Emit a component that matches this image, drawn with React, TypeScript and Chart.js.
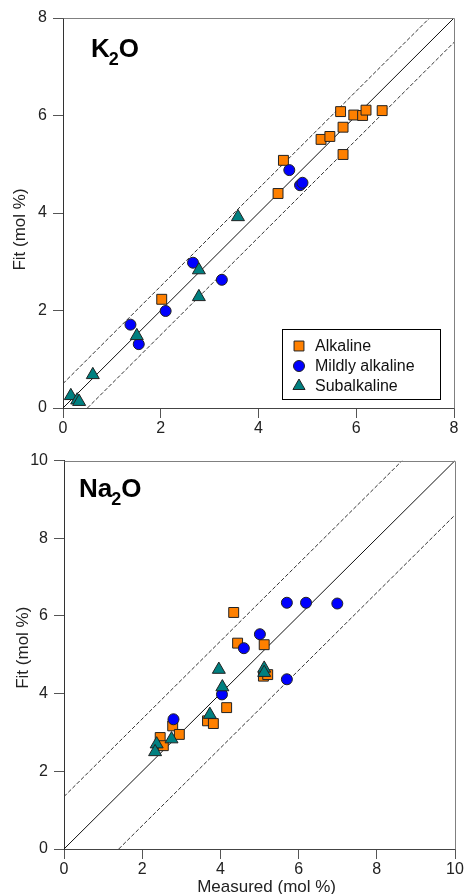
import React, { useEffect, useRef } from 'react';
import { Chart, registerables } from 'chart.js';

Chart.register(...registerables);

const FONT = '"Liberation Sans", Arial, Helvetica, sans-serif';

// ---------- K2O panel data ----------
const k2oAlkalineX = [5.68, 5.95, 6.13, 6.2, 6.53, 5.28, 5.46, 5.73, 5.73, 4.51, 4.4, 2.02];
const k2oAlkalineY = [6.08, 6.01, 6.0, 6.11, 6.1, 5.51, 5.57, 5.76, 5.2, 5.08, 4.4, 2.23];
const k2oMildX = [4.63, 4.85, 4.9, 2.66, 3.25, 2.1, 1.38, 1.55];
const k2oMildY = [4.88, 4.57, 4.62, 2.98, 2.63, 1.99, 1.71, 1.31];
const k2oSubX = [3.58, 2.78, 2.78, 1.51, 0.61, 0.16, 0.29, 0.33];
const k2oSubY = [3.92, 2.83, 2.28, 1.48, 0.68, 0.25, 0.16, 0.13];
const k2oFitX = [0, 8];
const k2oFitY = [0, 8];
const k2oUpperX = [0, 7.5];
const k2oUpperY = [0.5, 8];
const k2oLowerX = [0.5, 8];
const k2oLowerY = [0, 7.5];
const k2oTicks = [0, 2, 4, 6, 8];

// ---------- Na2O panel data ----------
const na2oAlkalineX = [4.34, 4.44, 5.12, 5.1, 5.21, 4.16, 3.67, 3.82, 2.78, 2.95, 2.46, 2.54];
const na2oAlkalineY = [6.09, 5.3, 5.26, 4.45, 4.49, 3.64, 3.3, 3.23, 3.17, 2.95, 2.87, 2.66];
const na2oMildX = [5.7, 6.19, 6.99, 5.01, 4.6, 5.7, 4.04, 2.8];
const na2oMildY = [6.34, 6.34, 6.32, 5.53, 5.17, 4.37, 3.98, 3.34];
const na2oSubX = [3.96, 4.05, 3.73, 5.12, 5.12, 2.75, 2.37, 2.33];
const na2oSubY = [4.62, 4.17, 3.46, 4.65, 4.54, 2.83, 2.7, 2.5];
const na2oFitX = [0, 10];
const na2oFitY = [0, 10];
const na2oUpperX = [0, 8.65];
const na2oUpperY = [1.35, 10];
const na2oLowerX = [1.4, 10];
const na2oLowerY = [0, 8.6];
const na2oTicks = [0, 2, 4, 6, 8, 10];

const seriesNames = ['Alkaline', 'Mildly alkaline', 'Subalkaline'];
const yTitle = 'Fit (mol %)';
const xTitle = 'Measured (mol %)';

const ORANGE = '#ff8000';
const BLUE = '#0000ff';
const TEAL = '#008080';
const EDGE = '#222222';

const pts = (xs: number[], ys: number[]) => xs.map((x, i) => ({ x, y: ys[i] }));

function drawMarker(ctx: CanvasRenderingContext2D, style: string, x: number, y: number, r: number, fill: string) {
  ctx.beginPath();
  if (style === 'rect') {
    const s = Math.SQRT1_2 * r;
    ctx.rect(x - s, y - s, 2 * s, 2 * s);
  } else if (style === 'circle') {
    ctx.arc(x, y, r, 0, Math.PI * 2);
  } else {
    let rad = 0;
    ctx.moveTo(x + Math.sin(rad) * r, y - Math.cos(rad) * r);
    rad += (2 * Math.PI) / 3;
    ctx.lineTo(x + Math.sin(rad) * r, y - Math.cos(rad) * r);
    rad += (2 * Math.PI) / 3;
    ctx.lineTo(x + Math.sin(rad) * r, y - Math.cos(rad) * r);
    ctx.closePath();
  }
  ctx.fillStyle = fill;
  ctx.fill();
  ctx.lineWidth = 1;
  ctx.strokeStyle = EDGE;
  ctx.stroke();
}

type PanelCfg = {
  top: number;
  height: number;
  padTop: number;
  padRight: number;
  yWidth: number;
  xHeight: number;
  max: number;
  ticks: number[];
  alk: { x: number; y: number }[];
  mild: { x: number; y: number }[];
  sub: { x: number; y: number }[];
  fit: { x: number; y: number }[];
  upper: { x: number; y: number }[];
  lower: { x: number; y: number }[];
  labelMain: string;
  labelSub: string;
  labelTail: string;
  labelX: number;
  labelBase: number;
  legend: boolean;
  yTitleText: string;
  yTitlePad: number;
  showXTitle: boolean;
};

const panels: PanelCfg[] = [
  {
    top: 0,
    height: 445,
    padTop: 18,
    padRight: 12,
    yWidth: 63,
    xHeight: 37,
    max: 8,
    ticks: k2oTicks,
    alk: pts(k2oAlkalineX, k2oAlkalineY),
    mild: pts(k2oMildX, k2oMildY),
    sub: pts(k2oSubX, k2oSubY),
    fit: pts(k2oFitX, k2oFitY),
    upper: pts(k2oUpperX, k2oUpperY),
    lower: pts(k2oLowerX, k2oLowerY),
    labelMain: 'K',
    labelSub: '2',
    labelTail: 'O',
    labelX: 91,
    labelBase: 57,
    legend: true,
    yTitleText: yTitle + '       ',
    yTitlePad: 10.5,
    showXTitle: false,
  },
  {
    top: 445,
    height: 449,
    padTop: 13,
    padRight: 11,
    yWidth: 64,
    xHeight: 45,
    max: 10,
    ticks: na2oTicks,
    alk: pts(na2oAlkalineX, na2oAlkalineY),
    mild: pts(na2oMildX, na2oMildY),
    sub: pts(na2oSubX, na2oSubY),
    fit: pts(na2oFitX, na2oFitY),
    upper: pts(na2oUpperX, na2oUpperY),
    lower: pts(na2oLowerX, na2oLowerY),
    labelMain: 'Na',
    labelSub: '2',
    labelTail: 'O',
    labelX: 79,
    labelBase: 52,
    legend: false,
    yTitleText: '   ' + yTitle,
    yTitlePad: 13.5,
    showXTitle: true,
  },
];

function makeDecor(p: PanelCfg) {
  return {
    id: 'decor' + p.top,
    afterDraw(chart: any) {
      const { ctx, chartArea } = chart;
      const { left, right, top, bottom } = chartArea;
      ctx.save();
      // top & right frame
      ctx.strokeStyle = '#808080';
      ctx.lineWidth = 1;
      ctx.beginPath();
      ctx.moveTo(Math.round(left) + 0.5, Math.round(top) + 0.5);
      ctx.lineTo(Math.round(right) + 0.5, Math.round(top) + 0.5);
      ctx.lineTo(Math.round(right) + 0.5, Math.round(bottom) + 0.5);
      ctx.stroke();

      // panel label with subscript
      ctx.fillStyle = '#000';
      ctx.textBaseline = 'alphabetic';
      ctx.textAlign = 'left';
      let x = p.labelX;
      ctx.font = 'bold 26px ' + FONT;
      ctx.fillText(p.labelMain, x, p.labelBase);
      x += ctx.measureText(p.labelMain).width - 1;
      ctx.font = 'bold 18px ' + FONT;
      ctx.fillText(p.labelSub, x, p.labelBase + 8);
      x += ctx.measureText(p.labelSub).width;
      ctx.font = 'bold 26px ' + FONT;
      ctx.fillText(p.labelTail, x, p.labelBase);

      if (p.legend) {
        const bx = right - 171.5;
        const by = bottom - 78.5;
        ctx.fillStyle = '#fff';
        ctx.fillRect(bx, by, 158, 70);
        ctx.strokeStyle = '#000';
        ctx.lineWidth = 1;
        ctx.strokeRect(bx, by, 158, 70);
        const styles = ['rect', 'circle', 'triangle'];
        const fills = [ORANGE, BLUE, TEAL];
        const radii = [7, 5.5, 7];
        ctx.font = '16px ' + FONT;
        ctx.textBaseline = 'middle';
        for (let i = 0; i < seriesNames.length; i++) {
          const cy = by + 16.5 + i * 20;
          drawMarker(ctx, styles[i], bx + 16.5, cy, radii[i], fills[i]);
          ctx.fillStyle = '#111';
          ctx.fillText(seriesNames[i], bx + 32.5, cy + 1);
        }
      }
      ctx.restore();
    },
  };
}

function buildConfig(p: PanelCfg): any {
  const tickFont = { family: FONT, size: 16 };
  const lineDs = (data: any[], dash: number[]) => ({
    type: 'line',
    data,
    showLine: true,
    borderColor: dash.length ? '#333' : '#111',
    borderWidth: 1,
    borderDash: dash,
    pointRadius: 0,
    fill: false,
    order: 10,
  });
  return {
    type: 'scatter',
    data: {
      datasets: [
        lineDs(p.fit, []),
        lineDs(p.upper, [4, 2]),
        lineDs(p.lower, [4, 2]),
        {
          label: seriesNames[0],
          data: p.alk,
          pointStyle: 'rect',
          pointRadius: 7,
          backgroundColor: ORANGE,
          borderColor: EDGE,
          borderWidth: 1,
          order: 3,
        },
        {
          label: seriesNames[1],
          data: p.mild,
          pointStyle: 'circle',
          pointRadius: 5.5,
          backgroundColor: BLUE,
          borderColor: EDGE,
          borderWidth: 1,
          order: 2,
        },
        {
          label: seriesNames[2],
          data: p.sub,
          pointStyle: 'triangle',
          pointRadius: 7.5,
          backgroundColor: TEAL,
          borderColor: EDGE,
          borderWidth: 1,
          order: 1,
        },
      ],
    },
    options: {
      animation: false,
      responsive: false,
      devicePixelRatio: 1,
      layout: { padding: { left: 0, right: p.padRight, top: p.padTop, bottom: 0 } },
      plugins: { legend: { display: false }, tooltip: { enabled: false } },
      scales: {
        x: {
          type: 'linear',
          min: 0,
          max: p.max,
          afterBuildTicks: (s: any) => {
            s.ticks = p.ticks.map((v) => ({ value: v }));
          },
          afterFit: (s: any) => {
            s.height = p.xHeight;
          },
          ticks: { font: tickFont, color: '#222', padding: 1, maxRotation: 0, autoSkip: false },
          grid: { drawOnChartArea: false, drawTicks: true, tickLength: 10, color: '#555' },
          border: { display: true, color: '#444', width: 1 },
          title: {
            display: p.showXTitle,
            text: '   ' + xTitle,
            font: { family: FONT, size: 17 },
            color: '#222',
            padding: { top: 0, bottom: -4 },
          },
        },
        y: {
          type: 'linear',
          min: 0,
          max: p.max,
          afterBuildTicks: (s: any) => {
            s.ticks = p.ticks.map((v) => ({ value: v }));
          },
          afterFit: (s: any) => {
            s.width = p.yWidth;
          },
          ticks: { font: tickFont, color: '#222', padding: 6, autoSkip: false },
          grid: { drawOnChartArea: false, drawTicks: true, tickLength: 10, color: '#555' },
          border: { display: true, color: '#333', width: 1 },
          title: {
            display: true,
            text: p.yTitleText,
            font: { family: FONT, size: 17 },
            color: '#222',
            padding: { top: p.yTitlePad, bottom: 0 },
          },
        },
      },
    },
    plugins: [makeDecor(p)],
  };
}

function Panel({ p }: { p: PanelCfg }) {
  const ref = useRef<HTMLCanvasElement>(null);
  useEffect(() => {
    const chart = new Chart(ref.current as HTMLCanvasElement, buildConfig(p));
    return () => chart.destroy();
  }, [p]);
  return (
    <canvas
      ref={ref}
      width={466}
      height={p.height}
      style={{ position: 'absolute', left: 0, top: p.top, width: 466, height: p.height, display: 'block' }}
    />
  );
}

export default function App() {
  return (
    <div style={{ position: 'absolute', left: 0, top: 0, width: 466, height: 894, background: '#fff', overflow: 'hidden' }}>
      {panels.map((p) => (
        <Panel key={p.top} p={p} />
      ))}
    </div>
  );
}
